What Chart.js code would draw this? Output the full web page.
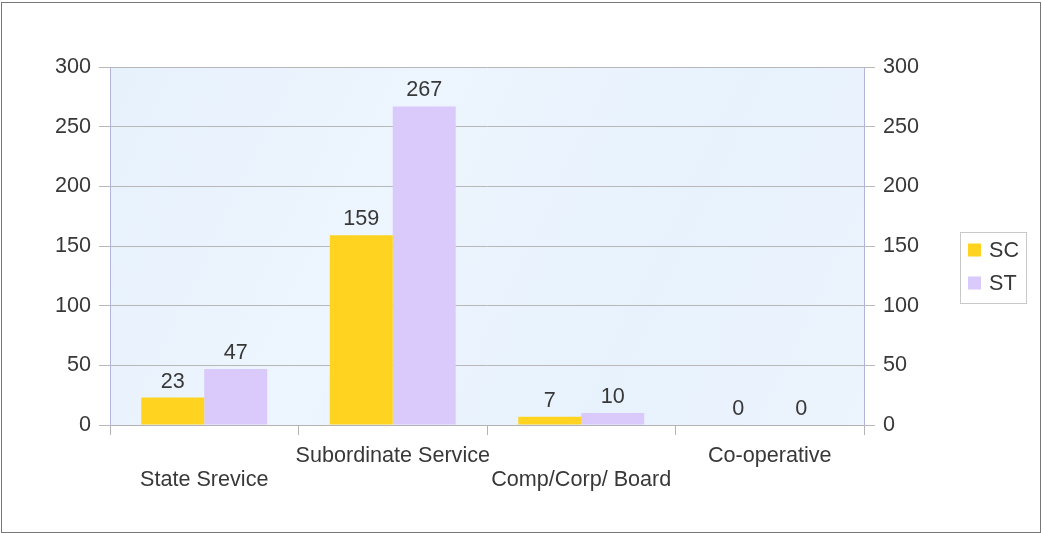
<!DOCTYPE html>
<html lang="en">
<head>
  <meta charset="UTF-8">
  <title>SC / ST</title>
  <style>
    body { margin: 0; background: #fff; }
    #wrap { width: 1042px; height: 533px; }
  </style>
  <script src="https://cdn.jsdelivr.net/npm/chart.js"></script>
</head>
<body>
  <div id="wrap"><canvas id="chart" width="1042" height="533"></canvas></div>
  <script>
    const categories = ['State Srevice', 'Subordinate Service', 'Comp/Corp/ Board', 'Co-operative'];
    const scValues = [23, 159, 7, 0];
    const stValues = [47, 267, 10, 0];
    const yTicks = [0, 50, 100, 150, 200, 250, 300];

    const textColor = '#383838';
    const font = { family: '"Liberation Sans", Arial, sans-serif', size: 21.6 };

    // light blue wall behind the bars + outer frame
    const wallPlugin = {
      id: 'wall',
      beforeDraw(chart) {
        const { ctx, chartArea: a } = chart;
        ctx.save();
        const g = ctx.createLinearGradient(a.left, a.top, a.right, a.bottom);
        g.addColorStop(0, '#e7f1fc');
        g.addColorStop(0.35, '#edf5fe');
        g.addColorStop(0.7, '#e8f2fd');
        g.addColorStop(1, '#ecf4fd');
        ctx.fillStyle = g;
        ctx.fillRect(a.left, a.top, a.right - a.left, a.bottom - a.top);
        ctx.restore();
      },
      afterDraw(chart) {
        const { ctx } = chart;
        ctx.save();
        ctx.strokeStyle = '#777777';
        ctx.lineWidth = 1;
        ctx.strokeRect(1.5, 2.5, 1039, 530);
        ctx.restore();
      }
    };

    // numbers above the bars
    const valueLabels = {
      id: 'valueLabels',
      afterDatasetsDraw(chart) {
        const { ctx } = chart;
        ctx.save();
        ctx.font = font.size + 'px ' + font.family;
        ctx.fillStyle = textColor;
        ctx.textAlign = 'center';
        ctx.textBaseline = 'alphabetic';
        chart.data.datasets.forEach((ds, i) => {
          chart.getDatasetMeta(i).data.forEach((bar, j) => {
            ctx.fillText(ds.data[j], bar.x, bar.y - 10);
          });
        });
        ctx.restore();
      }
    };

    // boxed legend on the right
    const boxLegend = {
      id: 'boxLegend',
      afterDraw(chart) {
        const { ctx } = chart;
        const x = 960, y = 232, w = 66, h = 71;
        ctx.save();
        ctx.fillStyle = '#ffffff';
        ctx.fillRect(x, y, w, h);
        ctx.strokeStyle = '#c8c8c8';
        ctx.lineWidth = 1;
        ctx.strokeRect(x + 0.5, y + 0.5, w, h);
        ctx.font = font.size + 'px ' + font.family;
        ctx.textBaseline = 'middle';
        chart.data.datasets.forEach((ds, i) => {
          const cy = y + 18 + i * 33;
          ctx.fillStyle = ds.backgroundColor;
          ctx.fillRect(x + 8, cy - 6.5, 13, 13);
          ctx.fillStyle = textColor;
          ctx.fillText(ds.label, x + 29, cy + 1);
        });
        ctx.restore();
      }
    };

    new Chart(document.getElementById('chart'), {
      type: 'bar',
      data: {
        labels: categories,
        datasets: [
          { label: 'SC', data: scValues, backgroundColor: '#ffd320', yAxisID: 'y' },
          { label: 'ST', data: stValues, backgroundColor: '#dac9fb', yAxisID: 'y' }
        ]
      },
      options: {
        responsive: false,
        animation: false,
        layout: { padding: { top: 67, right: 0, bottom: 0, left: 0 } },
        plugins: { legend: { display: false }, tooltip: { enabled: false } },
        datasets: { bar: { categoryPercentage: 0.668, barPercentage: 1.0 } },
        scales: {
          x: {
            offset: true,
            afterFit(scale) { scale.height = 108; },
            grid: { offset: true, drawOnChartArea: false, drawTicks: true, tickLength: 10, color: '#b3b3b3' },
            border: { color: '#b3b3b3', width: 1 },
            ticks: {
              autoSkip: false, maxRotation: 0, minRotation: 0, padding: 9,
              color: textColor,
              font: { family: font.family, size: font.size, lineHeight: '24px' },
              callback(value, index) {
                const name = categories[index];
                return index % 2 === 0 ? ['', name] : [name];
              }
            }
          },
          y: {
            position: 'left',
            min: 0, max: 300,
            afterFit(scale) { scale.width = 110; },
            afterBuildTicks(scale) { scale.ticks = yTicks.map(v => ({ value: v })); },
            grid: { color: '#b8b8b8', tickLength: 11 },
            border: { color: '#b4b4d8', width: 1 },
            ticks: { padding: 8, color: textColor, font: font }
          },
          y2: {
            position: 'right',
            min: 0, max: 300,
            afterFit(scale) { scale.width = 178; },
            afterBuildTicks(scale) { scale.ticks = yTicks.map(v => ({ value: v })); },
            grid: { drawOnChartArea: false, color: '#b8b8b8', tickLength: 11 },
            border: { color: '#b4b4d8', width: 1 },
            ticks: { padding: 8, color: textColor, font: font }
          }
        }
      },
      plugins: [wallPlugin, valueLabels, boxLegend]
    });
  </script>
</body>
</html>
